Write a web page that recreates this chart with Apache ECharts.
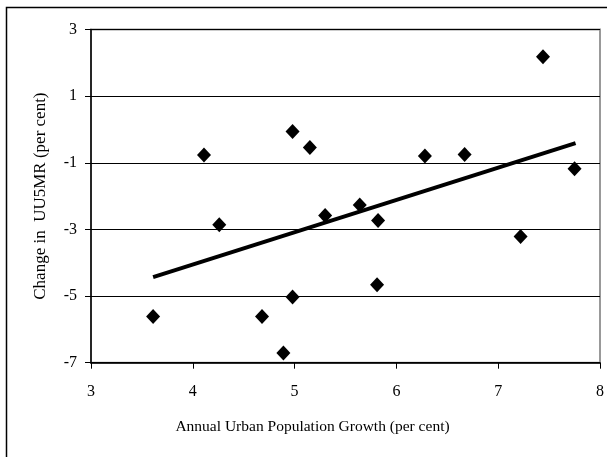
<!DOCTYPE html>
<html>
<head>
<meta charset="utf-8">
<script src="https://cdn.jsdelivr.net/npm/echarts@6/dist/echarts.min.js"></script>
<style>
  html, body { margin: 0; padding: 0; background: #fff; }
  #chart { width: 607px; height: 457px; }
</style>
</head>
<body>
<div id="chart"></div>
<script>
// growth (x) vs change in UU5MR (y)
const growth = [3.61, 4.11, 4.26, 4.68, 4.89, 4.98, 4.98, 5.15, 5.30, 5.64, 5.82, 5.81, 6.28, 6.67, 7.22, 7.44, 7.75];
const change = [-5.61, -0.77, -2.86, -5.61, -6.71, -0.06, -5.03, -0.54, -2.58, -2.27, -2.73, -4.66, -0.80, -0.75, -3.21, 2.18, -1.18];
// trend line end points
const trendX = [3.61, 7.76];
const trendY = [-4.43, -0.41];

const xTicks = [3, 4, 5, 6, 7, 8];
const yTicks = [-7, -5, -3, -1, 1, 3];

const font = '"Liberation Serif", "Times New Roman", serif';

const chart = echarts.init(document.getElementById('chart'));

chart.setOption({
    animation: false,
    backgroundColor: '#fff',
    textStyle: { fontFamily: font },
    graphic: [{
        type: 'rect',
        shape: { x: 6.5, y: 7.5, width: 700, height: 600 },
        style: { fill: 'none', stroke: '#000', lineWidth: 1.5 },
        silent: true,
        z: 100
    }],
    grid: {
        left: 91, right: 4.3, top: 29.5, bottom: 94.3,
        show: true,
        borderColor: '#999',
        borderWidth: 2
    },
    xAxis: {
        type: 'value',
        min: xTicks[0], max: xTicks[xTicks.length - 1], interval: 1,
        name: 'Annual Urban Population Growth (per cent)',
        nameLocation: 'middle',
        nameGap: 56,
        // title is centred on the whole chart box, not the plot
        nameTextStyle: { fontFamily: font, fontSize: 15.5, color: '#000', padding: [0, 66, 0, 0] },
        axisLine: { onZero: false, lineStyle: { color: '#000', width: 1.5 } },
        axisTick: { show: true, length: 6, inside: false, lineStyle: { color: '#000' } },
        axisLabel: { fontFamily: font, fontSize: 16, color: '#000', margin: 21 },
        splitLine: { show: false }
    },
    yAxis: {
        type: 'value',
        min: yTicks[0], max: yTicks[yTicks.length - 1], interval: 2,
        name: 'Change in  UU5MR (per cent)',
        nameLocation: 'middle',
        nameGap: 42,
        nameTextStyle: { fontFamily: font, fontSize: 17, color: '#000' },
        axisLine: { onZero: false, lineStyle: { color: '#000', width: 1.5 } },
        axisTick: { show: true, length: 6, inside: false, lineStyle: { color: '#000' } },
        axisLabel: { fontFamily: font, fontSize: 16, color: '#000', margin: 14 },
        splitLine: { show: true, lineStyle: { color: '#000', width: 1 } }
    },
    series: [
        {
            type: 'line',
            data: trendX.map((x, i) => [x, trendY[i]]),
            showSymbol: false,
            symbol: 'none',
            lineStyle: { color: '#000', width: 4 },
            z: 2
        },
        {
            type: 'scatter',
            data: growth.map((x, i) => [x, change[i]]),
            symbol: 'diamond',
            symbolSize: [14, 15],
            itemStyle: { color: '#000', opacity: 1 },
            z: 3
        }
    ]
});
</script>
</body>
</html>
